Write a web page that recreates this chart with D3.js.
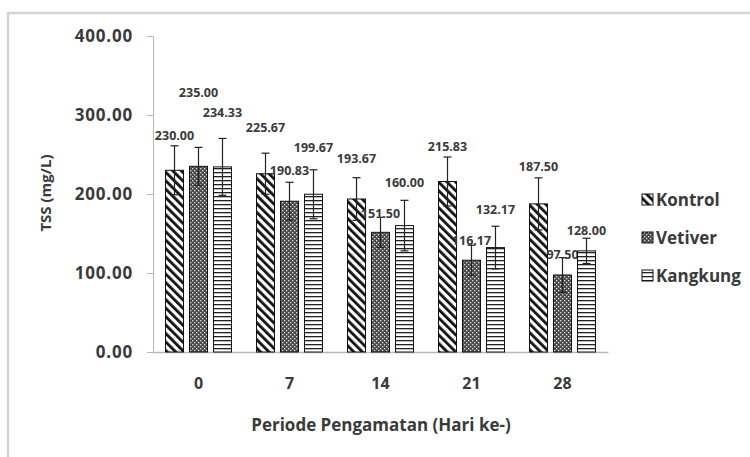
<!DOCTYPE html>
<html>
<head>
<meta charset="utf-8">
<script src="https://cdn.jsdelivr.net/npm/d3@7"></script>
<style>
  body { margin: 0; background: #fff; }
  text { font-family: "Open Sans", "Noto Sans", sans-serif; font-weight: bold; fill: #3a3a3a; }
</style>
</head>
<body>
<svg width="750" height="457"></svg>
<script>
// data
const days = ['0', '7', '14', '21', '28'];
const seriesNames = ['Kontrol', 'Vetiver', 'Kangkung'];
const kontrol = [230.00, 225.67, 193.67, 215.83, 187.50];
const vetiver = [235.00, 190.83, 151.50, 116.17, 97.50];
const kangkung = [234.33, 199.67, 160.00, 132.17, 128.00];
const kontrolErr = [31, 26, 27, 31, 33];
const vetiverErr = [24, 24, 19, 19, 22];
const kangkungErr = [36, 31, 32, 27, 16];
const yTicks = [0, 100, 200, 300, 400];

// label lift above bar top (px), as placed in the original
const labelLift = [
    [35, 46, 40, 35, 37],
    [74, 31, 19, 20, 20],
    [54, 47, 43, 38, 20]
];

const svg = d3.select("svg");
const values = [kontrol, vetiver, kangkung];
const errors = [kontrolErr, vetiverErr, kangkungErr];

// outer frame
svg.append("rect")
    .attr("x", 8).attr("y", 13)
    .attr("width", 760).attr("height", 460)
    .attr("fill", "#fff")
    .attr("stroke", "#d4d4d4")
    .attr("stroke-width", 2.5);

// patterns
const defs = svg.append("defs");
// wide downward diagonal
const p0 = defs.append("pattern").attr("id", "pat0")
    .attr("patternUnits", "userSpaceOnUse").attr("width", 6).attr("height", 6)
    .attr("patternTransform", "rotate(-45)");
p0.append("rect").attr("width", 6).attr("height", 6).attr("fill", "#fff");
p0.append("rect").attr("x", 0).attr("width", 2.8).attr("height", 6).attr("fill", "#111");

// dotted dark grid
const p1 = defs.append("pattern").attr("id", "pat1")
    .attr("patternUnits", "userSpaceOnUse").attr("width", 4).attr("height", 4);
p1.append("rect").attr("width", 4).attr("height", 4).attr("fill", "#4a4a4a");
p1.append("rect").attr("x", 0).attr("y", 0).attr("width", 1.3).attr("height", 1.3).attr("fill", "#ddd");
p1.append("rect").attr("x", 2).attr("y", 2).attr("width", 1.3).attr("height", 1.3).attr("fill", "#ddd");

// narrow horizontal
const p2 = defs.append("pattern").attr("id", "pat2")
    .attr("patternUnits", "userSpaceOnUse").attr("width", 4).attr("height", 4);
p2.append("rect").attr("width", 4).attr("height", 4).attr("fill", "#fff");
p2.append("rect").attr("y", 0).attr("width", 4).attr("height", 1.3).attr("fill", "#222");

// scales
const x = d3.scaleBand().domain(days).range([153, 608])
    .paddingInner(0.275).paddingOuter(0.1375);
const xs = d3.scaleBand().domain(d3.range(3)).range([0, x.bandwidth()])
    .paddingInner(0.25);
const y = d3.scaleLinear().domain([0, 400]).range([352, 36]);

// y axis
const yAxis = svg.append("g").attr("transform", "translate(153,0)")
    .call(d3.axisLeft(y).tickValues(yTicks).tickFormat(d3.format(".2f"))
        .tickSize(6).tickPadding(14));
yAxis.select(".domain").attr("stroke", "#b8b8b8");
yAxis.selectAll(".tick line").attr("stroke", "#b8b8b8");
yAxis.selectAll("text").style("font-size", "17px").attr("fill", "#3a3a3a")
    .style("letter-spacing", "0.8px")
    .style("font-family", "'Open Sans', sans-serif").style("font-weight", "bold");

// x axis
const xAxis = svg.append("g").attr("transform", "translate(0,352)")
    .call(d3.axisBottom(x).tickSize(0).tickPadding(26));
xAxis.select(".domain").attr("stroke", "#b8b8b8").attr("stroke-width", 1.5);
xAxis.selectAll("text").style("font-size", "16px").attr("fill", "#3a3a3a")
    .style("font-family", "'Open Sans', sans-serif").style("font-weight", "bold");

// bars, error bars, labels
values.forEach((vals, s) => {
    const g = svg.append("g");
    vals.forEach((v, i) => {
        const bx = x(days[i]) + xs(s);
        const bw = xs.bandwidth();
        const cx = bx + bw / 2;
        g.append("rect")
            .attr("x", bx).attr("y", y(v))
            .attr("width", bw).attr("height", y(0) - y(v))
            .attr("fill", `url(#pat${s})`)
            .attr("stroke", "#111").attr("stroke-width", 1);
        const e = errors[s][i];
        g.append("line")
            .attr("x1", cx).attr("x2", cx)
            .attr("y1", y(v + e)).attr("y2", y(v - e))
            .attr("stroke", "#222").attr("stroke-width", 1.2);
        g.append("line")
            .attr("x1", cx - 4).attr("x2", cx + 4)
            .attr("y1", y(v + e)).attr("y2", y(v + e))
            .attr("stroke", "#222").attr("stroke-width", 1.2);
        g.append("line")
            .attr("x1", cx - 4).attr("x2", cx + 4)
            .attr("y1", y(v - e)).attr("y2", y(v - e))
            .attr("stroke", "#222").attr("stroke-width", 1.2);
        g.append("text")
            .attr("x", cx).attr("y", y(v) - labelLift[s][i])
            .attr("dy", "0.35em")
            .attr("text-anchor", "middle")
            .style("font-size", "12.5px")
            .text(v.toFixed(2));
    });
});

// axis titles
svg.append("text")
    .attr("transform", "translate(46,193) rotate(-90)")
    .attr("text-anchor", "middle")
    .attr("dy", "0.35em")
    .style("font-size", "15px")
    .text("TSS (mg/L)");

svg.append("text")
    .attr("x", 381).attr("y", 425)
    .attr("dy", "0.35em")
    .attr("text-anchor", "middle")
    .style("font-size", "17px")
    .text("Periode Pengamatan (Hari ke-)");

// legend
const legend = svg.append("g").attr("transform", "translate(642,200)");
seriesNames.forEach((name, s) => {
    const item = legend.append("g").attr("transform", `translate(0,${s * 38})`);
    item.append("rect")
        .attr("x", 0).attr("y", -6)
        .attr("width", 11).attr("height", 11)
        .attr("fill", `url(#pat${s})`)
        .attr("stroke", "#111").attr("stroke-width", 1);
    item.append("text")
        .attr("x", 14).attr("y", 0)
        .attr("dy", "0.35em")
        .style("font-size", "17px")
        .text(name);
});
</script>
</body>
</html>
